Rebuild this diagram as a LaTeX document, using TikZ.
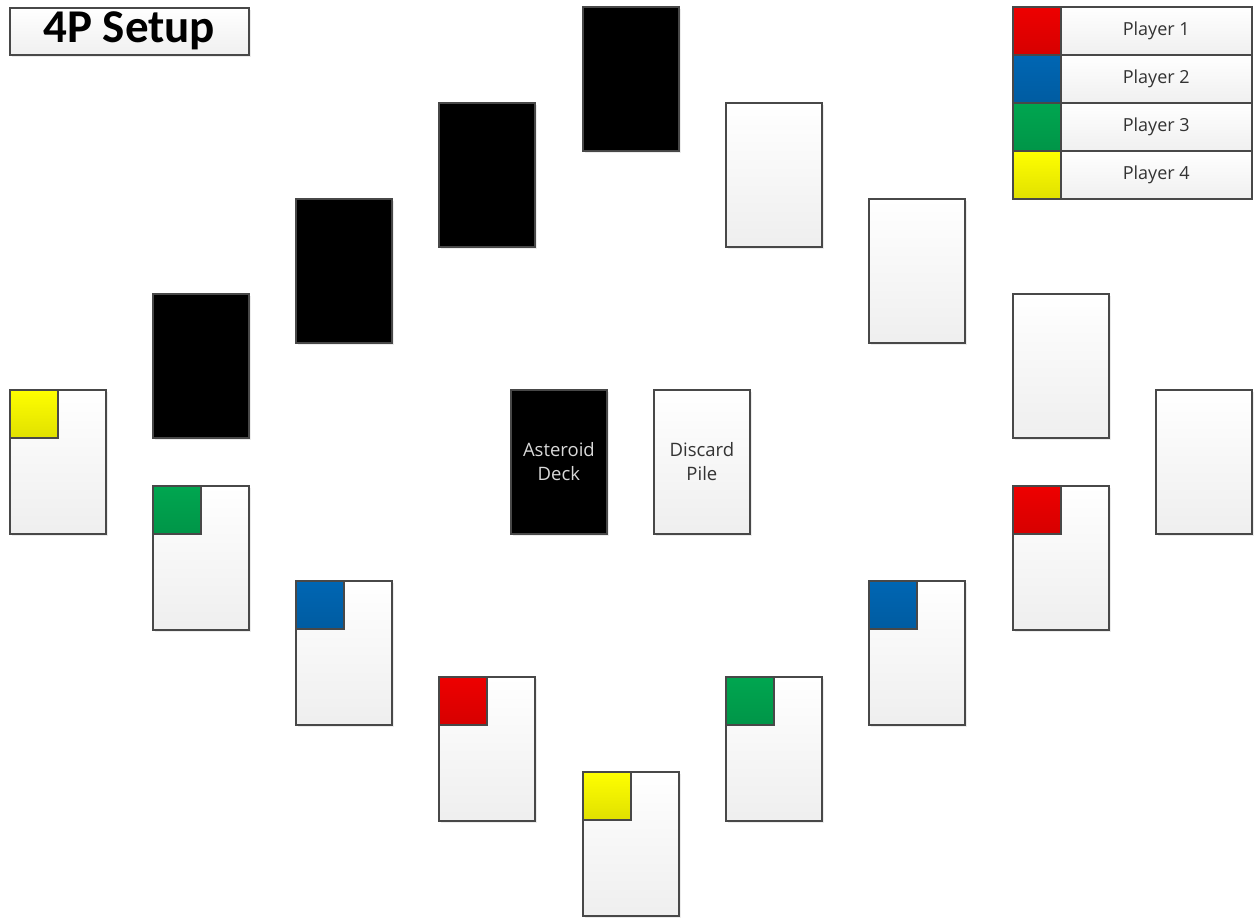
\documentclass[tikz,border=0pt]{standalone}
\usepackage{fontspec}
\setmainfont{Open Sans}
\newfontfamily\titlefont{Carlito}
\usetikzlibrary{shadows}
\definecolor{pred}{HTML}{EE0000}
\definecolor{pblue}{HTML}{0066B3}
\definecolor{pgreen}{HTML}{00A650}
\definecolor{pyellow}{HTML}{FFFF00}
\definecolor{edge}{HTML}{484848}
\begin{document}
\begin{tikzpicture}[x=1pt,y=-1pt,
  shad/.style={drop shadow={opacity=0.15,shadow xshift=2pt,shadow yshift=-2pt}},
  card/.style={draw=edge,line width=1.8pt,top color=white,bottom color=gray!13,
    minimum width=96pt,minimum height=144pt,inner sep=0pt,anchor=north west,shad,
    align=center,font=\fontsize{18.5}{24}\selectfont,text=black!80},
  back/.style={draw=edge,line width=1.8pt,fill=black,
    minimum width=96pt,minimum height=144pt,inner sep=0pt,anchor=north west,shad,
    align=center,font=\fontsize{18.5}{24}\selectfont,text=white!85!black},
  sq/.style={draw=edge,line width=1.5pt,minimum width=48pt,minimum height=48pt,
    inner sep=0pt,anchor=north west},
  lab/.style={draw=edge,line width=1.5pt,top color=white,bottom color=gray!12,
    minimum width=191pt,minimum height=48pt,inner sep=0pt,anchor=north west,
    font=\fontsize{18}{21}\selectfont,text=black!80},
  rsq/.style={sq,top color=pred,bottom color=pred!90!black},
  bsq/.style={sq,top color=pblue,bottom color=pblue!90!black},
  gsq/.style={sq,top color=pgreen,bottom color=pgreen!90!black},
  ysq/.style={sq,top color=pyellow,bottom color=pyellow!88!black}]
\useasboundingbox (0,0) rectangle (1255,918);
% title
\node[draw=edge,line width=1.5pt,top color=white,bottom color=gray!12,shad,
  minimum width=239pt,minimum height=47pt,inner sep=0pt,anchor=north west,
  font=\titlefont\bfseries\fontsize{47}{48}\selectfont] (title) at (9,7) {4P Setup};
% legend
\foreach \i/\s/\t in {0/rsq/Player 1,1/bsq/Player 2,2/gsq/Player 3,3/ysq/Player 4}{
  \node[\s] (leg\i) at (1012,{6+48*\i}) {};
  \node[lab] (legl\i) at (1060,{6+48*\i}) {\t};
}
% black cards
\node[back] (b1) at (582,6) {};
\node[back] (b2) at (438,102) {};
\node[back] (b3) at (295,198) {};
\node[back] (b4) at (152,293) {};
% white cards upper right
\node[card] (w1) at (725,102) {};
\node[card] (w2) at (868,198) {};
\node[card] (w3) at (1012,293) {};
\node[card] (w4) at (1155,389) {};
% centre
\node[back] (deck) at (510,389) {Asteroid\\Deck};
\node[card] (disc) at (653,389) {Discard\\Pile};
% player cards
\node[card] (p1) at (9,389) {};
\node[ysq] (p1s) at (p1.north west) {};
\node[card] (p2) at (152,485) {};
\node[gsq] (p2s) at (p2.north west) {};
\node[card] (p3) at (295,580) {};
\node[bsq] (p3s) at (p3.north west) {};
\node[card] (p4) at (438,676) {};
\node[rsq] (p4s) at (p4.north west) {};
\node[card] (p5) at (582,771) {};
\node[ysq] (p5s) at (p5.north west) {};
\node[card] (p6) at (725,676) {};
\node[gsq] (p6s) at (p6.north west) {};
\node[card] (p7) at (868,580) {};
\node[bsq] (p7s) at (p7.north west) {};
\node[card] (p8) at (1012,485) {};
\node[rsq] (p8s) at (p8.north west) {};
\end{tikzpicture}
\end{document}
